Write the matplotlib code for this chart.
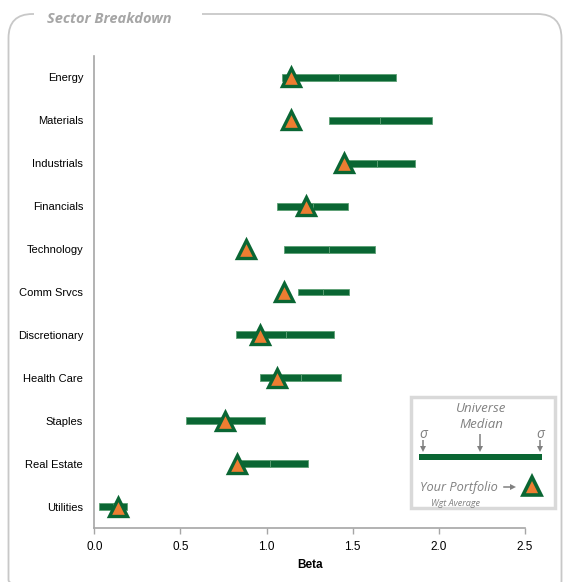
import matplotlib
matplotlib.use("Agg")
import matplotlib.pyplot as plt
from matplotlib.patches import FancyBboxPatch, Rectangle

# Sector beta data: universe range (low, median, high) and portfolio weighted average
sectors = ["Energy", "Materials", "Industrials", "Financials", "Technology",
           "Comm Srvcs", "Discretionary", "Health Care", "Staples", "Real Estate",
           "Utilities"]
universe_low = [1.09, 1.36, 1.46, 1.06, 1.10, 1.18, 0.82, 0.96, 0.53, 0.83, 0.03]
universe_median = [1.42, 1.66, 1.64, 1.27, 1.36, 1.33, 1.11, 1.20, 0.75, 1.02, 0.11]
universe_high = [1.75, 1.96, 1.86, 1.47, 1.63, 1.48, 1.39, 1.43, 0.99, 1.24, 0.19]
portfolio = [1.14, 1.14, 1.45, 1.23, 0.88, 1.10, 0.96, 1.06, 0.76, 0.83, 0.14]
x_ticks = [0.0, 0.5, 1.0, 1.5, 2.0, 2.5]

GREEN = "#0a6633"
EDGE = "#5c9f74"
ORANGE = "#ed7d31"
GRAY_TEXT = "#808080"
AXIS_GRAY = "#a6a6a6"
LABEL_FONT = ["Liberation Sans Narrow", "Liberation Sans"]

W, H = 567, 582
fig = plt.figure(figsize=(W / 100, H / 100), dpi=100)
fig.patch.set_facecolor("white")

ax = fig.add_axes([94.3 / W, (H - 528) / H, (525 - 94.3) / W, (528 - 56) / H])
ax.set_facecolor("none")

ypos = list(range(len(sectors)))
bar_h = 0.16
lower_w = [m - l for l, m in zip(universe_low, universe_median)]
upper_w = [h - m for m, h in zip(universe_median, universe_high)]
ax.barh(ypos, lower_w, left=universe_low, height=bar_h, color=GREEN,
        edgecolor=EDGE, linewidth=0.6, zorder=2)
ax.barh(ypos, upper_w, left=universe_median, height=bar_h, color=GREEN,
        edgecolor=EDGE, linewidth=0.6, zorder=2)
ax.plot(portfolio, ypos, linestyle="none", marker="^", markersize=12.5,
        markerfacecolor=ORANGE, markeredgecolor=GREEN, markeredgewidth=2.4,
        zorder=3)

ax.set_xlim(0, 2.5)
ax.set_ylim(len(sectors) - 0.5, -0.5)
ax.set_yticks(ypos)
ax.set_yticklabels(sectors, fontsize=8, family=LABEL_FONT)
ax.set_xticks(x_ticks)
ax.set_xticklabels([f"{t:.1f}" for t in x_ticks], fontsize=8.5, family=LABEL_FONT)
ax.tick_params(axis="y", length=0, pad=8)
ax.tick_params(axis="x", length=4, color=AXIS_GRAY, width=1, pad=5)
ax.set_xlabel("Beta", fontsize=8.5, fontweight="bold", family=LABEL_FONT, labelpad=5)
for side in ("top", "right"):
    ax.spines[side].set_visible(False)
for side in ("left", "bottom"):
    ax.spines[side].set_color(AXIS_GRAY)
    ax.spines[side].set_linewidth(1.2)

# Overlay in pixel coordinates for frame, title and key
ov = fig.add_axes([0, 0, 1, 1])
ov.set_xlim(0, W)
ov.set_ylim(H, 0)
ov.axis("off")
ov.set_facecolor("none")

frame = FancyBboxPatch((8.5, 14), 553, 590, boxstyle="round,pad=0,rounding_size=24",
                       facecolor="none", edgecolor="#c8c8c8", linewidth=1.3)
ov.add_patch(frame)
ov.add_patch(Rectangle((34, 5), 168, 18, facecolor="white", edgecolor="none", zorder=3))
ov.text(47, 19, "Sector Breakdown", fontsize=10.5, fontstyle="italic",
        fontweight="bold", color="#a6a6a6", family="Open Sans",
        va="center", ha="left", zorder=4)

# Key box
ov.add_patch(Rectangle((411, 397), 144, 111, facecolor="white",
                       edgecolor="#d9d9d9", linewidth=2.5, zorder=5))
key_font = dict(fontstyle="italic", color=GRAY_TEXT, family="Open Sans", zorder=6)
ov.text(481, 408, "Universe", fontsize=9.5, ha="center", va="center", **key_font)
ov.text(481, 425, "Median", fontsize=9.5, ha="center", va="center", **key_font)
ov.text(423, 434, "σ", fontsize=10, ha="center", va="center", **key_font)
ov.text(540, 434, "σ", fontsize=10, ha="center", va="center", **key_font)
for kx, y0 in ((423, 440), (480, 434), (540, 440)):
    ov.plot([kx, kx], [y0, 449], color=GRAY_TEXT, lw=1.1, zorder=6,
            solid_capstyle="butt")
    ov.plot([kx], [449], marker="v", markersize=4.5, color=GRAY_TEXT,
            markeredgewidth=0, zorder=6, linestyle="none")
ov.add_patch(Rectangle((419, 453.5), 123, 6.5, facecolor=GREEN, edgecolor="none", zorder=6))
ov.text(420, 487, "Your Portfolio", fontsize=9.2, ha="left", va="center", **key_font)
ov.plot([504, 511], [487, 487], color=GRAY_TEXT, lw=1.1, zorder=6)
ov.plot([512.5], [487], marker=">", markersize=4.5, color=GRAY_TEXT,
        markeredgewidth=0, zorder=6, linestyle="none")
ov.plot([532], [486], marker="^", markersize=13, markerfacecolor=ORANGE,
        markeredgecolor=GREEN, markeredgewidth=2.6, zorder=7, linestyle="none")
ov.text(431, 503, "Wgt Average", fontsize=6.5, ha="left", va="center", **key_font)

fig.savefig("out.png", dpi=100)
